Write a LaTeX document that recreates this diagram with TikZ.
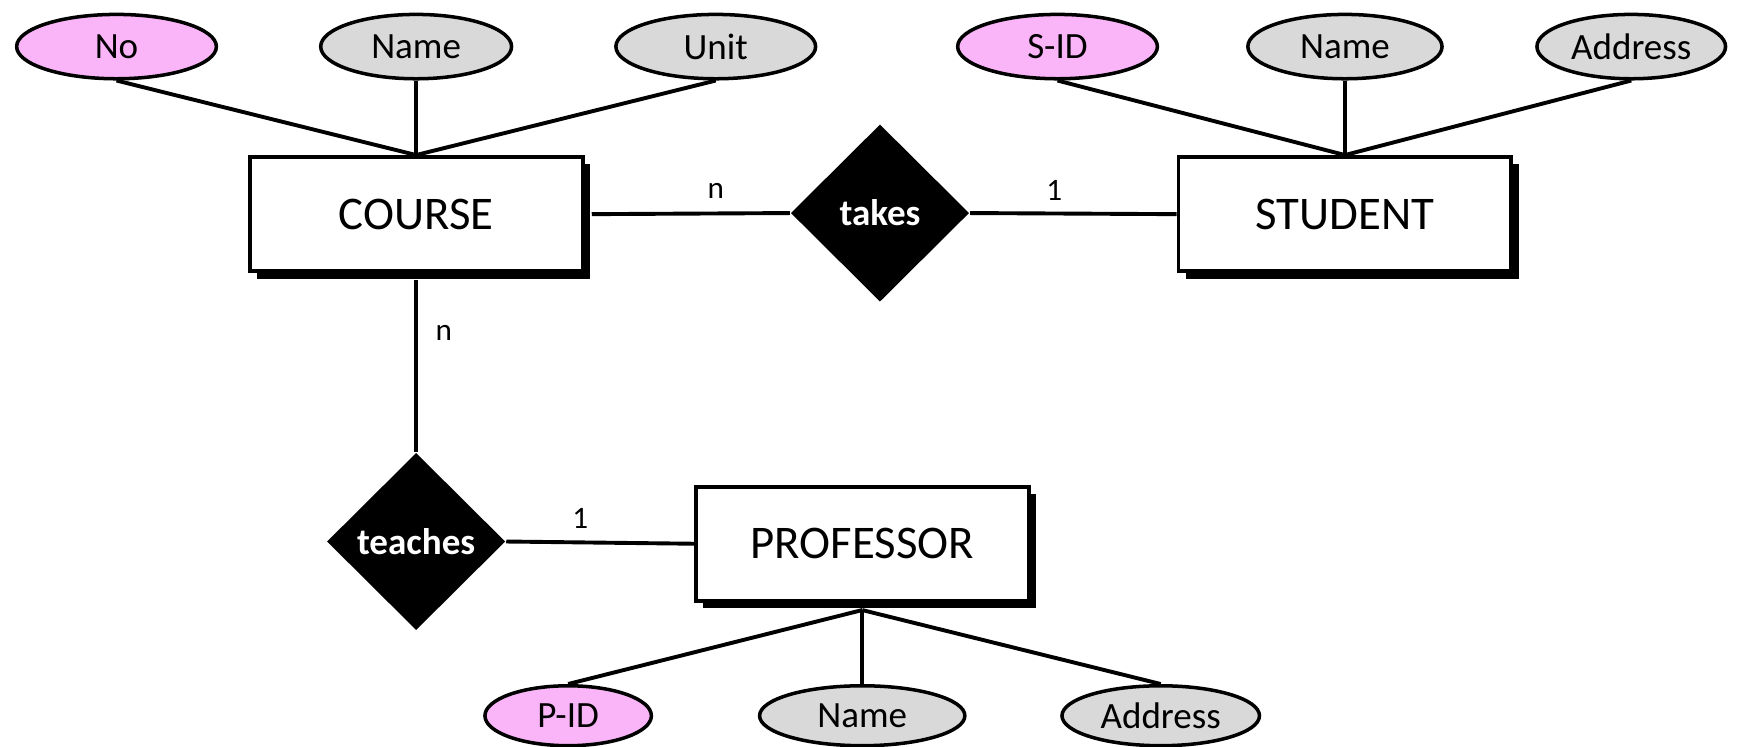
\documentclass[tikz,border=0pt]{standalone}
\usepackage{fontspec}
\setmainfont{Carlito}
\usetikzlibrary{shapes.geometric,shadows}
\definecolor{keypink}{RGB}{249,181,247}
\definecolor{attrgray}{RGB}{217,217,217}
\tikzset{
	entity/.style={draw, line width=1pt, fill=white, inner sep=0pt,
			minimum width=30mm, minimum height=10.3mm,
			font=\fontsize{12}{14}\selectfont,
			drop shadow={shadow xshift=0.65mm, shadow yshift=-0.65mm, fill=black, opacity=1}},
	attr/.style={ellipse, draw, line width=0.9pt, fill=attrgray, inner sep=0pt,
			minimum height=5.8mm, font=\fontsize{9.5}{11}\selectfont},
	keyattr/.style={attr, fill=keypink},
	relation/.style={diamond, fill=black, text=white, inner sep=0pt,
			minimum width=16.1mm, minimum height=16mm,
			font=\bfseries\fontsize{9.5}{11}\selectfont},
	card/.style={font=\fontsize{8}{10}\selectfont},
	link/.style={line width=1pt}
}

\begin{document}
\begin{tikzpicture}[x=0.1mm, y=-0.1mm]
        \useasboundingbox (0, 0) rectangle (1568, 673);
        \node[entity] (course) at (375, 193) {COURSE};
        \node[entity] (student) at (1212, 193) {STUDENT};
        \node[entity] (professor) at (777, 490) {PROFESSOR};
        \node[relation] (takes) at (793, 192) {takes};
        \node[relation] (teaches) at (375, 488) {teaches};
        \node[keyattr, minimum width=18mm] (c_no) at (105, 42) {No};
        \node[attr, minimum width=17.2mm] (c_name) at (375, 42) {Name};
        \node[attr, minimum width=18mm] (c_unit) at (645, 42) {Unit};
        \node[keyattr, minimum width=18mm] (s_id) at (953, 42) {S-ID};
        \node[attr, minimum width=17.5mm] (s_name) at (1212, 42) {Name};
        \node[attr, minimum width=17mm] (s_addr) at (1470, 42) {Address};
        \node[keyattr, minimum width=15mm, minimum height=5.4mm] (p_id) at (512, 645) {P-ID};
        \node[attr, minimum width=18.5mm, minimum height=5.4mm] (p_name) at (777, 645) {Name};
        \node[attr, minimum width=17.8mm, minimum height=5.4mm] (p_addr) at (1046, 645) {Address};
        \draw[link] (c_no.south) -- (course.north);
        \draw[link] (c_name.south) -- (course.north);
        \draw[link] (c_unit.south) -- (course.north);
        \draw[link] (s_id.south) -- (student.north);
        \draw[link] (s_name.south) -- (student.north);
        \draw[link] (s_addr.south) -- (student.north);
        \draw[link] (p_id.north) -- ([yshift=-0.65mm]professor.south);
        \draw[link] (p_name.north) -- ([yshift=-0.65mm]professor.south);
        \draw[link] (p_addr.north) -- ([yshift=-0.65mm]professor.south);
        \draw[link] ([xshift=0.65mm]course.east) -- (takes.west);
        \draw[link] (takes.east) -- (student.west);
        \draw[link] ([yshift=-0.65mm]course.south) -- (teaches.north);
        \draw[link] (teaches.east) -- (professor.west);
        \node[card] (n_takes) at (645, 172) {n};
        \node[card] (one_takes) at (950, 172) {1};
        \node[card] (n_teaches) at (400, 300) {n};
        \node[card] (one_teaches) at (523, 467) {1};
    \end{tikzpicture}
\end{document}
